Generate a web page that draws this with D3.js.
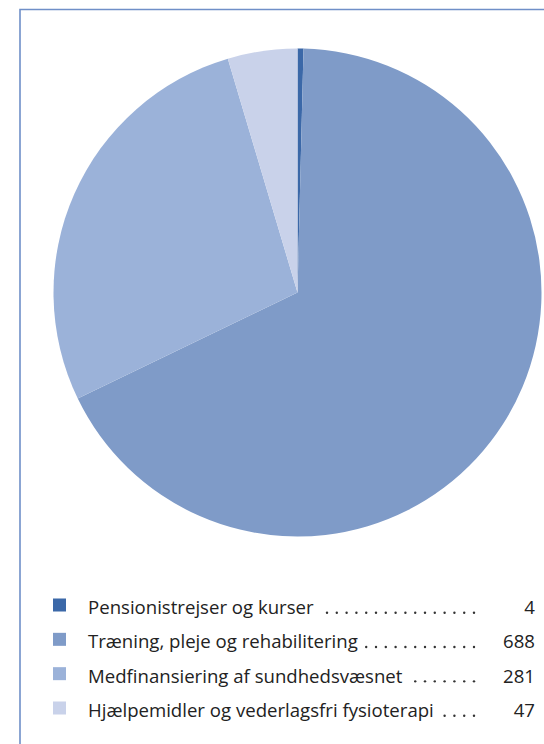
<!DOCTYPE html>
<html>
<head>
<meta charset="utf-8">
<script src="https://cdn.jsdelivr.net/npm/d3@7"></script>
<style>
  body { margin: 0; background: #fff; }
  svg { display: block; }
  text { font-family: "Open Sans", "Noto Sans", sans-serif; fill: #222; }
</style>
</head>
<body>
<div id="chart"></div>
<script>
const labels = ["Pensionistrejser og kurser", "Træning, pleje og rehabilitering", "Medfinansiering af sundhedsvæsnet", "Hjælpemidler og vederlagsfri fysioterapi"];
const values = [4, 688, 281, 47];
const colors = ["#3b68a8", "#7f9bc8", "#9bb2d9", "#c9d2ea"];

const width = 544, height = 744;
const cx = 297.5, cy = 292.5, radius = 244;

const svg = d3.select("#chart").append("svg")
  .attr("width", width)
  .attr("height", height);

// frame (open to the right and bottom)
svg.append("path")
  .attr("d", "M20," + (height + 5) + "V9.5H" + (width + 5))
  .attr("fill", "none")
  .attr("stroke", "#6f8fc8")
  .attr("stroke-width", 1.6);

const pie = d3.pie().sort(null).value(d => d);
const arc = d3.arc().innerRadius(0).outerRadius(radius);

svg.append("g")
  .attr("transform", "translate(" + cx + "," + cy + ")")
  .selectAll("path")
  .data(pie(values))
  .join("path")
  .attr("d", arc)
  .attr("fill", (d, i) => colors[i]);

// legend
const rowY = d3.scalePoint().domain(d3.range(labels.length)).range([614, 717]);
const fontSize = 18.6;
const dotEnd = 474;
const numRight = 535;

const rows = svg.append("g").selectAll("g")
  .data(labels)
  .join("g")
  .attr("transform", (d, i) => "translate(0," + rowY(i) + ")");

rows.append("rect")
  .attr("x", 53).attr("y", -15.5)
  .attr("width", 13).attr("height", 13)
  .attr("fill", (d, i) => colors[i]);

const lbl = rows.append("text")
  .attr("x", 88)
  .style("font-size", fontSize + "px")
  .text(d => d);

rows.append("text")
  .attr("x", numRight)
  .attr("text-anchor", "end")
  .style("font-size", fontSize + "px")
  .text((d, i) => values[i]);

// leader dots from label end to dotEnd
const dotGap = 9.8;
lbl.each(function(d, i) {
  const end = 88 + this.getComputedTextLength() + 5;
  const g = d3.select(this.parentNode);
  const xs = [];
  for (let x = dotEnd; x >= end; x -= dotGap) xs.push(x);
  g.selectAll(".dot").data(xs).join("circle")
    .attr("class", "dot")
    .attr("cx", x => x).attr("cy", -1.3)
    .attr("r", 1.2)
    .attr("fill", "#333");
});
</script>
</body>
</html>
